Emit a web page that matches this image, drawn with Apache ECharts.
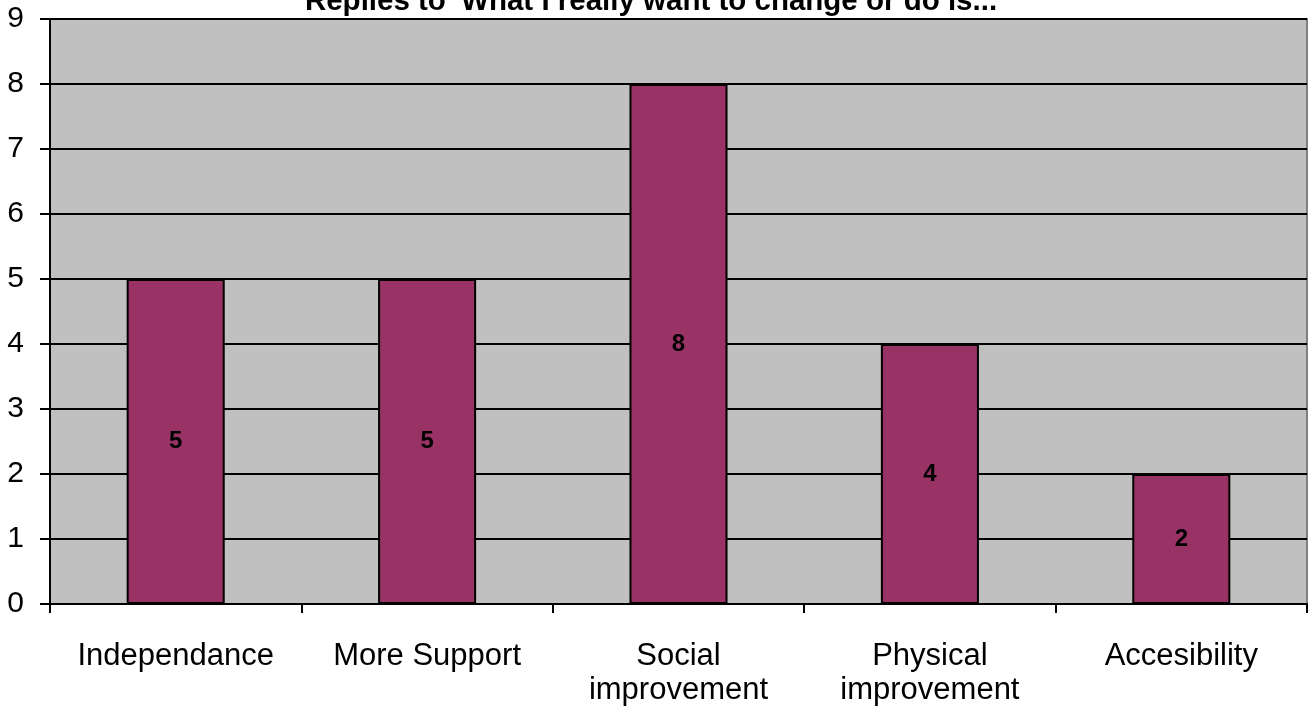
<!DOCTYPE html>
<html><head><meta charset="utf-8">
<script src="https://cdn.jsdelivr.net/npm/echarts@6/dist/echarts.min.js"></script>
<style>html,body{margin:0;padding:0;background:#fff}#c{width:1309px;height:711px}</style>
</head><body><div id="c"></div>
<script>
const categories = ['Independance','More Support','Social\nimprovement','Physical\nimprovement','Accesibility'];
const values = [5,5,8,4,2];
const yTicks = [0,1,2,3,4,5,6,7,8,9];
const titleText = "Replies to 'What I really want to change or do is...'";

const chart = echarts.init(document.getElementById('c'));
chart.setOption({
  animation:false,
  title:{text:titleText,left:'center',top:-18,textStyle:{fontFamily:'Liberation Sans, Arial',fontWeight:'bold',fontSize:29.5,color:'#000'}},
  grid:{left:50,right:2,top:19,bottom:107,show:true,backgroundColor:'#c0c0c0',borderColor:'#808080',borderWidth:2},
  xAxis:{type:'category',data:categories,
    axisLine:{lineStyle:{color:'#000',width:2}},
    axisTick:{show:true,interval:0,alignWithLabel:false,length:9,lineStyle:{color:'#000',width:2}},
    axisLabel:{interval:0,color:'#000',fontFamily:'Liberation Sans, Arial',fontSize:31,margin:35,lineHeight:34}},
  yAxis:{type:'value',min:0,max:9,interval:1,
    axisLine:{show:true,lineStyle:{color:'#000',width:2}},
    axisTick:{show:true,length:10,lineStyle:{color:'#000',width:2}},
    splitLine:{lineStyle:{color:'#000',width:2}},
    axisLabel:{color:'#000',fontFamily:'Liberation Sans, Arial',fontSize:30,margin:26,
      formatter:v=>yTicks.includes(v)?String(v):''}},
  series:[{type:'bar',data:values,barWidth:'39%',
    itemStyle:{color:'#993366',borderColor:'#000',borderWidth:2},
    label:{show:true,position:'inside',color:'#000',fontWeight:'bold',fontFamily:'Liberation Sans, Arial',fontSize:24}}]
});
</script></body></html>
